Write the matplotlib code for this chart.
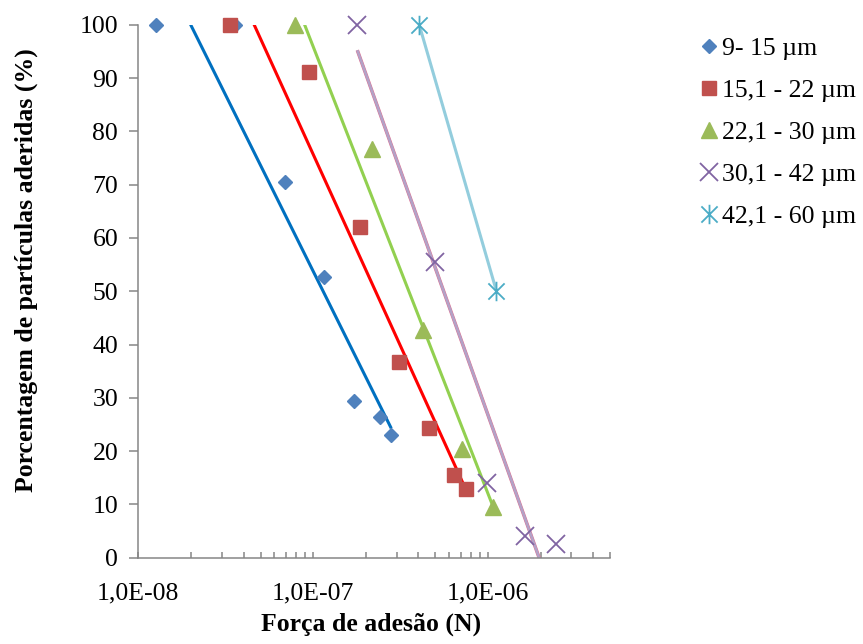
import numpy as np
import matplotlib
matplotlib.use("Agg")
import matplotlib.pyplot as plt
from matplotlib.path import Path
from matplotlib.ticker import FixedLocator, LogLocator, NullFormatter

plt.rcParams['font.family'] = ['Liberation Serif', 'DejaVu Serif']

# ---- data ----
labels = ["9- 15 \u00b5m", "15,1 - 22 \u00b5m", "22,1 - 30 \u00b5m",
          "30,1 - 42 \u00b5m", "42,1 - 60 \u00b5m"]

blue_x = [1.26e-8, 3.58e-8, 6.94e-8, 1.15e-7, 1.71e-7, 2.40e-7, 2.80e-7]
blue_y = [100, 100, 70.5, 52.7, 29.3, 26.3, 23.0]

red_x = [3.36e-8, 9.44e-8, 1.85e-7, 3.10e-7, 4.60e-7, 6.40e-7, 7.47e-7]
red_y = [100, 91.1, 62.1, 36.7, 24.4, 15.5, 12.9]

green_x = [7.84e-8, 2.18e-7, 4.27e-7, 7.15e-7, 1.07e-6]
green_y = [100, 76.7, 42.7, 20.4, 9.5]

purple_x = [1.79e-7, 4.96e-7, 9.86e-7, 1.63e-6, 2.45e-6]
purple_y = [100, 55.5, 13.9, 4.0, 2.5]

cyan_x = [4.05e-7, 1.12e-6]
cyan_y = [100, 50.0]

x_ticks = [1e-8, 1e-7, 1e-6]
x_ticklabels = ["1,0E-08", "1,0E-07", "1,0E-06"]
y_ticks = list(range(0, 101, 10))

# ---- styling ----
FS = 18.5
GRAY = "#868686"

fig = plt.figure(figsize=(8.63, 6.44), dpi=100)
ax = fig.add_axes([0.1603, 0.1343, 0.5466, 0.8269])
ax.set_xscale('log')
ax.set_xlim(1e-8, 5e-6)
ax.set_ylim(0, 100)

star = Path([(-1, -1), (1, 1), (-1, 1), (1, -1), (0, -1.2), (0, 1.2)],
            [Path.MOVETO, Path.LINETO, Path.MOVETO, Path.LINETO,
             Path.MOVETO, Path.LINETO])

series = [
    (blue_x, blue_y, dict(marker='D', ms=7.3, color='#4F81BD', mec='#4F81BD'), dict(color='#0070C0')),
    (red_x, red_y, dict(marker='s', ms=10, color='#C0504D', mec='#C0504D'), dict(color='#FF0000')),
    (green_x, green_y, dict(marker='^', ms=12, color='#9BBB59', mec='#9BBB59'), dict(color='#92D050')),
    (purple_x, purple_y, dict(marker='x', ms=13, color='#8064A2', mew=1.3), dict(color='#B3A2C7')),
    (cyan_x, cyan_y, dict(marker=star, ms=14, color='#4BACC6', mew=1.3), dict(color='#93CDDD')),
]

handles = []
for i, (xs, ys, mk, ln) in enumerate(series):
    xs = np.asarray(xs, float)
    ys = np.asarray(ys, float)
    # logarithmic trendline (least squares in log10 x)
    k, b = np.polyfit(np.log10(xs), ys, 1)
    xl = np.geomspace(xs.min(), xs.max(), 60)
    yl = k * np.log10(xl) + b
    if i == 3:
        ax.plot(xl, yl, color='#E07090', lw=2.5, zorder=2, solid_capstyle='butt')
        ax.plot(xl, yl, color=ln['color'], lw=1.9, zorder=2.1, solid_capstyle='butt')
    else:
        ax.plot(xl, yl, color=ln['color'], lw=2.2, zorder=2, solid_capstyle='butt')
    h, = ax.plot(xs, ys, ls='none', zorder=3, clip_on=False, label=labels[i], **mk)
    handles.append(h)

# axes look
for s in ['top', 'right']:
    ax.spines[s].set_visible(False)
for s in ['left', 'bottom']:
    ax.spines[s].set_color(GRAY)
    ax.spines[s].set_linewidth(1.1)

ax.xaxis.set_major_locator(FixedLocator(x_ticks))
ax.set_xticklabels(x_ticklabels)
ax.xaxis.set_minor_locator(LogLocator(base=10, subs=np.arange(2, 10)))
ax.xaxis.set_minor_formatter(NullFormatter())
ax.tick_params(axis='x', which='both', direction='in', length=4, width=1.1,
               color=GRAY, labelsize=FS, pad=18)
ax.set_yticks(y_ticks)
ax.tick_params(axis='y', which='both', direction='out', length=6.5, width=1.1,
               color=GRAY, labelsize=FS, pad=8)

ax.set_xlabel("For\u00e7a de ades\u00e3o (N)", fontsize=FS, fontweight='bold')
ax.set_ylabel("Porcentagem de part\u00edculas aderidas (%)", fontsize=FS, fontweight='bold')
ax.xaxis.set_label_coords(0.493, -0.1026)
ax.yaxis.set_label_coords(-0.213, 0.54)

leg = fig.legend(handles=handles, loc='upper left', bbox_to_anchor=(0.811, 0.943),
                 frameon=False, fontsize=FS, handlelength=0.7, handletextpad=0.15,
                 labelspacing=0.74, borderaxespad=0, borderpad=0)

fig.savefig("out.png", dpi=100)
